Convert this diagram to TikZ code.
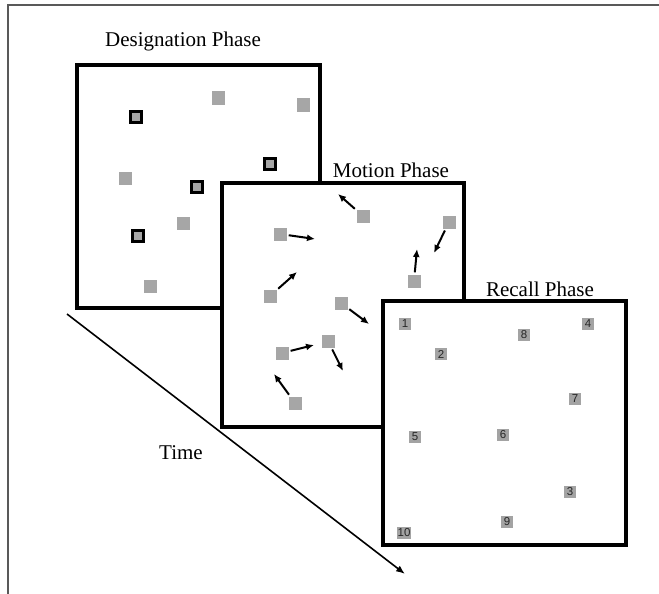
\documentclass[tikz,border=0pt]{standalone}
\usepackage{fontspec}
\setmainfont{Liberation Serif}
\newfontfamily\numfont{Liberation Sans}
\usetikzlibrary{arrows.meta}

\definecolor{sqgray}{HTML}{A6A6A6}
\definecolor{numgray}{HTML}{A3A3A3}

\tikzset{
  panel/.style={draw, line width=3.4pt, fill=white, inner sep=0pt},
  phasetitle/.style={inner sep=0pt, font=\fontsize{21}{25}\selectfont},
  sq/.style={fill=sqgray, inner sep=0pt, minimum size=13pt},
  sqmark/.style={fill=sqgray, draw=black, line width=2.8pt, inner sep=0pt, minimum size=10.6pt},
  sqnum/.style={fill=numgray, text=black!85, inner sep=0.6pt, minimum size=12.5pt,
    font=\numfont\fontsize{11.5}{12}\selectfont},
  mvarrow/.style={-{Latex[length=8pt,width=7pt]}, line width=2pt, shorten <=2pt}
}

\begin{document}
\begin{tikzpicture}[x=1pt,y=-1pt]
  \useasboundingbox (0,0) rectangle (659,594);

  % Rahmen
  \draw[line width=1.4pt, black!65] (659,5) -- (8,5) -- (8,594);

  % Designation Phase
  \node[phasetitle] (tdesig) at (183,41) {Designation Phase};
  \node[panel, minimum width=243pt, minimum height=243pt] (desig) at (198.5,186.5) {};
  \node[sq] (d1) at (218,98) {};
  \node[sq] (d2) at (303,105) {};
  \node[sqmark] (d3) at (136,117) {};
  \node[sq] (d4) at (125,178) {};
  \node[sqmark] (d5) at (270,164) {};
  \node[sqmark] (d6) at (197,187) {};
  \node[sq] (d7) at (183,223) {};
  \node[sqmark] (d8) at (138,236) {};
  \node[sq] (d9) at (150,286) {};

  % Motion Phase
  \node[phasetitle] (tmotion) at (391,170) {Motion Phase};
  \node[panel, minimum width=242pt, minimum height=244pt] (motion) at (343,305) {};
  \node[sq] (m1) at (363,216) {};
  \node[sq] (m2) at (280,234) {};
  \node[sq] (m3) at (449,222) {};
  \node[sq] (m4) at (414,281) {};
  \node[sq] (m5) at (270,296) {};
  \node[sq] (m6) at (341,303) {};
  \node[sq] (m7) at (282,353) {};
  \node[sq] (m8) at (328,341) {};
  \node[sq] (m9) at (295,403) {};
  \coordinate (a1) at (338,194);
  \coordinate (a2) at (315,239);
  \coordinate (a3) at (434,253);
  \coordinate (a4) at (417,249);
  \coordinate (a5) at (297,272);
  \coordinate (a6) at (369,324);
  \coordinate (a7) at (314,345);
  \coordinate (a8) at (343,371);
  \coordinate (a9) at (274,374);
  \draw[mvarrow] (m1) -- (a1);
  \draw[mvarrow] (m2) -- (a2);
  \draw[mvarrow] (m3) -- (a3);
  \draw[mvarrow] (m4) -- (a4);
  \draw[mvarrow] (m5) -- (a5);
  \draw[mvarrow] (m6) -- (a6);
  \draw[mvarrow] (m7) -- (a7);
  \draw[mvarrow] (m8) -- (a8);
  \draw[mvarrow] (m9) -- (a9);

  % Recall Phase
  \node[phasetitle] (trecall) at (540,289) {Recall Phase};
  \node[panel, minimum width=243pt, minimum height=244pt] (recall) at (504.5,423) {};
  \node[sqnum] (r1) at (405,324) {1};
  \node[sqnum] (r2) at (441,354) {2};
  \node[sqnum] (r3) at (570,492) {3};
  \node[sqnum] (r4) at (588,324) {4};
  \node[sqnum] (r5) at (415,437) {5};
  \node[sqnum] (r6) at (503,435) {6};
  \node[sqnum] (r7) at (575,399) {7};
  \node[sqnum] (r8) at (524,335) {8};
  \node[sqnum] (r9) at (507,522) {9};
  \node[sqnum] (r10) at (404,533) {10};

  % Zeitachse
  \coordinate (tstart) at (67,314);
  \coordinate (tend) at (405,574);
  \draw[-{Latex[length=9pt,width=7pt]}, line width=1.6pt] (tstart) -- (tend);
  \node[phasetitle] (ttime) at (181,453) {Time};
\end{tikzpicture}
\end{document}
